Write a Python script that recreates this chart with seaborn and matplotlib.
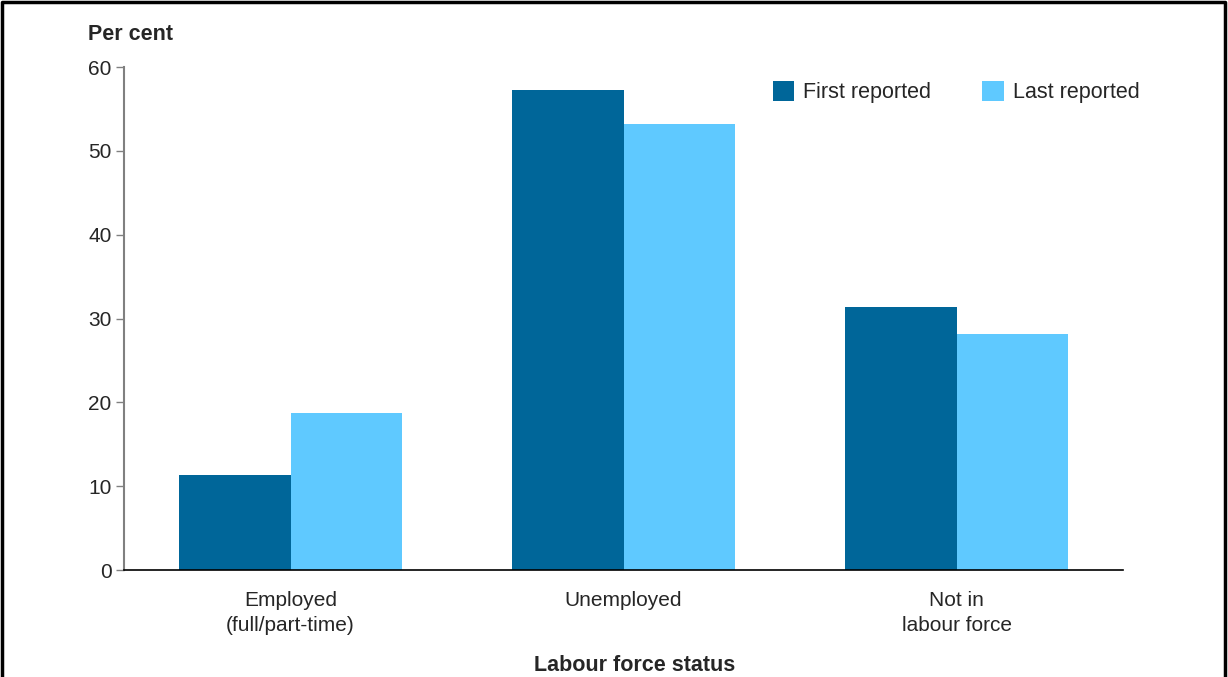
import pandas as pd
import matplotlib.pyplot as plt
import seaborn as sns
from matplotlib.lines import Line2D

# Data
categories = ['Employed\n(full/part-time)', 'Unemployed', 'Not in\nlabour force']
first_reported = [11.3, 57.3, 31.4]
last_reported = [18.7, 53.2, 28.2]
series = ['First reported', 'Last reported']
colors = ['#006699', '#5FC9FF']

df = pd.DataFrame({
    'Status': categories * 2,
    'Series': [series[0]] * 3 + [series[1]] * 3,
    'Value': first_reported + last_reported,
})

sns.set_style('white')
plt.rcParams['font.family'] = ['Liberation Sans', 'DejaVu Sans']

fig = plt.figure(figsize=(12.28, 6.77), dpi=100)
ax = fig.add_axes([0.101, 0.158, 0.8135, 0.743])

sns.barplot(data=df, x='Status', y='Value', hue='Series', palette=colors,
            width=0.667, saturation=1, linewidth=0, ax=ax, legend=True)

ax.set_xlim(-0.5, 2.5)
ax.set_ylim(0, 60)
ax.set_yticks(range(0, 61, 10))
ax.tick_params(axis='y', length=6, width=1, color='#808080', labelsize=15, pad=3, left=True)
ax.tick_params(axis='x', length=0, labelsize=15, pad=15)
for lbl in ax.get_xticklabels():
    lbl.set_linespacing(1.4)
for s in ['top', 'right']:
    ax.spines[s].set_visible(False)
ax.spines['left'].set_color('#808080')
ax.spines['left'].set_linewidth(1.5)
ax.spines['bottom'].set_color('black')
ax.spines['bottom'].set_linewidth(1.2)

ax.set_xlabel('Labour force status', fontsize=15.5, fontweight='bold', labelpad=14.5)
ax.xaxis.label.set_x(0.5115)
ax.set_ylabel('')
fig.text(0.0715, 0.949, 'Per cent', fontsize=15.5, fontweight='bold', ha='left', va='center')

ax.legend(loc='upper right', bbox_to_anchor=(1.036, 1.01), ncol=2, frameon=False,
          fontsize=15.5, handlelength=1.0, handleheight=1.0, handletextpad=0.42,
          columnspacing=2.37)

# outer frame (left, top, right)
fig.add_artist(Line2D([0.002, 0.002, 0.9975, 0.9975], [0.0, 0.997, 0.997, 0.0],
                      transform=fig.transFigure, color='black', linewidth=2.5))

fig.savefig('out.png', dpi=100)
